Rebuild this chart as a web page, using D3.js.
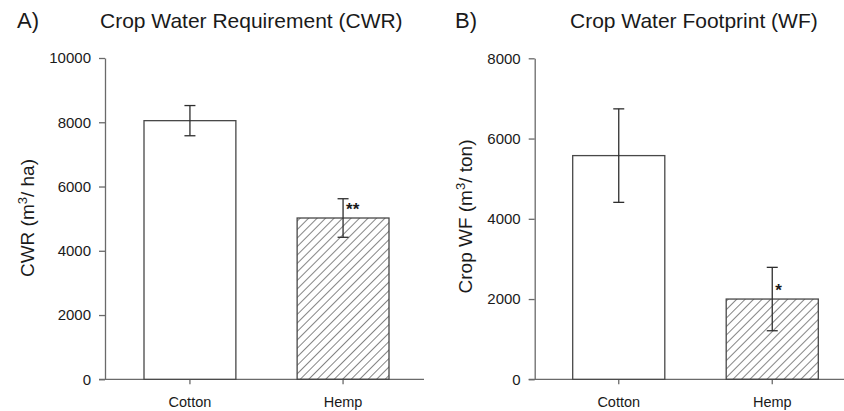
<!DOCTYPE html>
<html lang="en">
<head>
    <meta charset="UTF-8">
    <title>Crop Water Requirement and Footprint</title>
    <script src="https://cdn.jsdelivr.net/npm/d3@7"></script>
    <style>
        body { margin: 0; background: #fff; }
        svg { display: block; font-family: Arial, "Liberation Sans", sans-serif; }
    </style>
</head>
<body>
    <svg width="844" height="411"></svg>
    <script>
        // data
        const categories = ["Cotton", "Hemp"];
        const cwrMean = [8050, 5020];
        const cwrErr = [470, 600];
        const cwrSig = ["", "**"];
        const cwrTicks = [0, 2000, 4000, 6000, 8000, 10000];
        const wfMean = [5575, 2000];
        const wfErr = [1165, 790];
        const wfSig = ["", "*"];
        const wfTicks = [0, 2000, 4000, 6000, 8000];

        const panels = [
            {
                letter: "A)", title: "Crop Water Requirement (CWR)",
                label: ["CWR (m", "3", "/ ha)"],
                mean: cwrMean, err: cwrErr, sig: cwrSig, ticks: cwrTicks,
                axisX: 105, barRange: [144, 389], axisEnd: 424,
                yTop: 58, yBottom: 379.3,
                letterX: 17, titleX: 100, labelX: 34, labelY: 218
            },
            {
                letter: "B)", title: "Crop Water Footprint (WF)",
                label: ["Crop WF (m", "3", "/ ton)"],
                mean: wfMean, err: wfErr, sig: wfSig, ticks: wfTicks,
                axisX: 534.7, barRange: [572.7, 818.3], axisEnd: 844,
                yTop: 58.3, yBottom: 379.3,
                letterX: 455, titleX: 570, labelX: 472, labelY: 216.5
            }
        ];

        const svg = d3.select("svg");
        const textColor = "#1a1a1a";
        const axisColor = "#6a6a6a";

        // diagonal hatch for hemp
        svg.append("defs").append("pattern")
            .attr("id", "hatch")
            .attr("patternUnits", "userSpaceOnUse")
            .attr("width", 6)
            .attr("height", 6)
            .attr("patternTransform", "rotate(45)")
            .append("line")
            .attr("x1", 0).attr("y1", 0)
            .attr("x2", 0).attr("y2", 6)
            .attr("stroke", "#1f1f1f")
            .attr("stroke-width", 1.1);

        panels.forEach(p => {
            const g = svg.append("g");

            const y = d3.scaleLinear()
                .domain([0, d3.max(p.ticks)])
                .range([p.yBottom, p.yTop]);

            const x = d3.scaleBand()
                .domain(categories)
                .range(p.barRange)
                .paddingInner(0.4)
                .paddingOuter(0);

            // y axis
            const yAxis = g.append("g")
                .attr("transform", `translate(${p.axisX},0)`)
                .call(d3.axisLeft(y).tickValues(p.ticks).tickSize(6).tickSizeOuter(0).tickPadding(8).tickFormat(d3.format("d")));
            yAxis.selectAll("path, line").attr("stroke", axisColor).attr("stroke-width", 1.3);
            yAxis.selectAll("text")
                .attr("fill", textColor)
                .style("font-size", "15px");

            // x axis
            const xAxis = g.append("g")
                .attr("transform", `translate(0,${p.yBottom})`)
                .call(d3.axisBottom(x).tickSize(5).tickSizeOuter(0).tickPadding(12));
            xAxis.select(".domain").remove();
            xAxis.selectAll("line").attr("stroke", axisColor).attr("stroke-width", 1.3);
            xAxis.selectAll("text")
                .attr("fill", textColor)
                .style("font-size", "14.5px");
            g.append("line")
                .attr("x1", p.axisX - 6).attr("x2", p.axisEnd)
                .attr("y1", p.yBottom).attr("y2", p.yBottom)
                .attr("stroke", axisColor)
                .attr("stroke-width", 1.3);

            // bars
            g.selectAll(".bar")
                .data(categories)
                .enter()
                .append("rect")
                .attr("class", "bar")
                .attr("x", d => x(d))
                .attr("width", x.bandwidth())
                .attr("y", (d, i) => y(p.mean[i]))
                .attr("height", (d, i) => p.yBottom - y(p.mean[i]))
                .attr("fill", (d, i) => i === 1 ? "url(#hatch)" : "#fff")
                .attr("stroke", "#484848")
                .attr("stroke-width", 1.3);

            // error bars
            const eb = g.selectAll(".err")
                .data(categories)
                .enter()
                .append("g")
                .attr("class", "err")
                .attr("stroke", "#2e2e2e")
                .attr("stroke-width", 1.3);
            const cx = d => x(d) + x.bandwidth() / 2;
            eb.append("line")
                .attr("x1", cx).attr("x2", cx)
                .attr("y1", (d, i) => y(p.mean[i] + p.err[i]))
                .attr("y2", (d, i) => y(p.mean[i] - p.err[i]));
            [1, -1].forEach(s => {
                eb.append("line")
                    .attr("x1", d => cx(d) - 5.5).attr("x2", d => cx(d) + 5.5)
                    .attr("y1", (d, i) => y(p.mean[i] + s * p.err[i]))
                    .attr("y2", (d, i) => y(p.mean[i] + s * p.err[i]));
            });

            // significance stars
            g.selectAll(".sig")
                .data(categories)
                .enter()
                .append("text")
                .attr("class", "sig")
                .attr("x", d => cx(d) + 3)
                .attr("y", (d, i) => y(p.mean[i]) - 3.5)
                .attr("fill", textColor)
                .style("font-size", "17px")
                .style("font-weight", "bold")
                .text((d, i) => p.sig[i]);

            // panel letter and title
            g.append("text")
                .attr("x", p.letterX).attr("y", 28)
                .attr("fill", textColor)
                .style("font-size", "22px")
                .text(p.letter);
            g.append("text")
                .attr("x", p.titleX).attr("y", 27.5)
                .attr("fill", textColor)
                .style("font-size", "21px")
                .text(p.title);

            // y label with superscript
            const lab = g.append("text")
                .attr("transform", `translate(${p.labelX},${p.labelY}) rotate(-90)`)
                .attr("text-anchor", "middle")
                .attr("fill", textColor)
                .style("font-size", "19px");
            lab.append("tspan").text(p.label[0]);
            lab.append("tspan").attr("dy", -7).style("font-size", "13px").text(p.label[1]);
            lab.append("tspan").attr("dy", 7).text(p.label[2]);
        });
    </script>
</body>
</html>
